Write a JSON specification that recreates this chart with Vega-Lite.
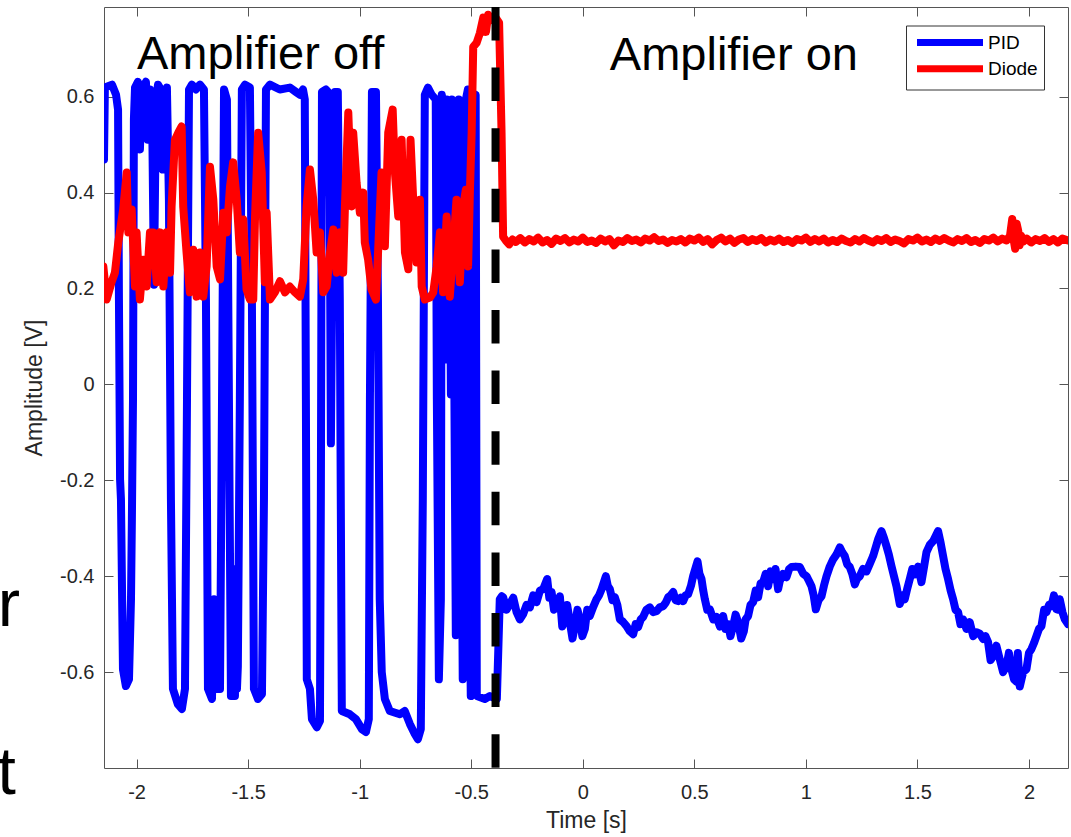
{
  "$schema": "https://vega.github.io/schema/vega-lite/v6.json",
  "width": 964,
  "height": 761,
  "autosize": {"type": "none"},
  "padding": {"left": 104, "top": 7, "right": 3, "bottom": 69},
  "background": "white",
  "config": {
    "view": {"stroke": "#555", "strokeWidth": 1},
    "font": "Liberation Sans",
    "axis": {
      "labelFont": "Liberation Sans", "labelFontSize": 20, "labelColor": "#262626",
      "titleFont": "Liberation Sans", "titleFontSize": 23, "titleColor": "#262626", "titleFontWeight": "normal",
      "tickColor": "#555", "tickSize": -9, "tickWidth": 1, "domain": false, "grid": false,
      "labelFlush": false, "labelOverlap": false
    }
  },
  "datasets": {
    "pid": [
      {"s":"PID","t":-2.146,"v":0.469},{"s":"PID","t":-2.142,"v":0.619},{"s":"PID","t":-2.110,"v":0.625},{"s":"PID","t":-2.092,"v":0.604},
      {"s":"PID","t":-2.083,"v":0.573},{"s":"PID","t":-2.079,"v":0.177},{"s":"PID","t":-2.074,"v":-0.198},{"s":"PID","t":-2.070,"v":-0.240},
      {"s":"PID","t":-2.061,"v":-0.594},{"s":"PID","t":-2.048,"v":-0.629},{"s":"PID","t":-2.034,"v":-0.615},{"s":"PID","t":-2.025,"v":-0.448},
      {"s":"PID","t":-2.021,"v":-0.281},{"s":"PID","t":-2.016,"v":-0.031},{"s":"PID","t":-2.012,"v":0.552},{"s":"PID","t":-2.007,"v":0.619},
      {"s":"PID","t":-1.994,"v":0.631},{"s":"PID","t":-1.985,"v":0.490},{"s":"PID","t":-1.976,"v":0.615},{"s":"PID","t":-1.958,"v":0.631},
      {"s":"PID","t":-1.949,"v":0.510},{"s":"PID","t":-1.940,"v":0.615},{"s":"PID","t":-1.931,"v":0.594},{"s":"PID","t":-1.922,"v":0.208},
      {"s":"PID","t":-1.913,"v":0.594},{"s":"PID","t":-1.904,"v":0.625},{"s":"PID","t":-1.891,"v":0.615},{"s":"PID","t":-1.882,"v":0.448},
      {"s":"PID","t":-1.873,"v":0.604},{"s":"PID","t":-1.864,"v":0.619},{"s":"PID","t":-1.855,"v":0.385},{"s":"PID","t":-1.846,"v":-0.240},
      {"s":"PID","t":-1.837,"v":-0.635},{"s":"PID","t":-1.815,"v":-0.667},{"s":"PID","t":-1.797,"v":-0.677},{"s":"PID","t":-1.783,"v":-0.635},
      {"s":"PID","t":-1.774,"v":-0.031},{"s":"PID","t":-1.765,"v":0.615},{"s":"PID","t":-1.752,"v":0.625},{"s":"PID","t":-1.734,"v":0.615},
      {"s":"PID","t":-1.716,"v":0.625},{"s":"PID","t":-1.698,"v":0.615},{"s":"PID","t":-1.689,"v":0.177},{"s":"PID","t":-1.680,"v":-0.635},
      {"s":"PID","t":-1.662,"v":-0.656},{"s":"PID","t":-1.653,"v":-0.448},{"s":"PID","t":-1.644,"v":-0.635},{"s":"PID","t":-1.626,"v":-0.635},
      {"s":"PID","t":-1.617,"v":-0.031},{"s":"PID","t":-1.608,"v":0.615},{"s":"PID","t":-1.595,"v":0.594},{"s":"PID","t":-1.586,"v":-0.031},
      {"s":"PID","t":-1.577,"v":-0.650},{"s":"PID","t":-1.559,"v":-0.650},{"s":"PID","t":-1.555,"v":-0.385},{"s":"PID","t":-1.550,"v":-0.635},
      {"s":"PID","t":-1.546,"v":-0.588},{"s":"PID","t":-1.537,"v":-0.031},{"s":"PID","t":-1.528,"v":0.615},{"s":"PID","t":-1.514,"v":0.625},
      {"s":"PID","t":-1.492,"v":0.619},{"s":"PID","t":-1.483,"v":0.177},{"s":"PID","t":-1.474,"v":-0.635},{"s":"PID","t":-1.456,"v":-0.656},
      {"s":"PID","t":-1.438,"v":-0.646},{"s":"PID","t":-1.429,"v":-0.240},{"s":"PID","t":-1.420,"v":0.615},{"s":"PID","t":-1.402,"v":0.625},
      {"s":"PID","t":-1.358,"v":0.615},{"s":"PID","t":-1.313,"v":0.619},{"s":"PID","t":-1.286,"v":0.610},{"s":"PID","t":-1.268,"v":0.604},
      {"s":"PID","t":-1.254,"v":0.615},{"s":"PID","t":-1.246,"v":0.594},{"s":"PID","t":-1.241,"v":-0.031},{"s":"PID","t":-1.237,"v":-0.615},
      {"s":"PID","t":-1.223,"v":-0.635},{"s":"PID","t":-1.214,"v":-0.698},{"s":"PID","t":-1.192,"v":-0.715},{"s":"PID","t":-1.178,"v":-0.702},
      {"s":"PID","t":-1.174,"v":-0.240},{"s":"PID","t":-1.169,"v":0.610},{"s":"PID","t":-1.151,"v":0.615},{"s":"PID","t":-1.142,"v":0.610},
      {"s":"PID","t":-1.134,"v":0.385},{"s":"PID","t":-1.129,"v":-0.123},{"s":"PID","t":-1.120,"v":0.385},{"s":"PID","t":-1.111,"v":0.610},
      {"s":"PID","t":-1.098,"v":0.610},{"s":"PID","t":-1.089,"v":0.177},{"s":"PID","t":-1.080,"v":-0.681},{"s":"PID","t":-1.044,"v":-0.688},
      {"s":"PID","t":-1.017,"v":-0.698},{"s":"PID","t":-0.990,"v":-0.719},{"s":"PID","t":-0.972,"v":-0.725},{"s":"PID","t":-0.959,"v":-0.698},
      {"s":"PID","t":-0.954,"v":-0.031},{"s":"PID","t":-0.945,"v":0.610},{"s":"PID","t":-0.927,"v":0.610},{"s":"PID","t":-0.918,"v":0.177},
      {"s":"PID","t":-0.910,"v":-0.448},{"s":"PID","t":-0.901,"v":-0.600},{"s":"PID","t":-0.887,"v":-0.656},{"s":"PID","t":-0.865,"v":-0.681},
      {"s":"PID","t":-0.820,"v":-0.688},{"s":"PID","t":-0.798,"v":-0.681},{"s":"PID","t":-0.775,"v":-0.708},{"s":"PID","t":-0.753,"v":-0.729},
      {"s":"PID","t":-0.739,"v":-0.740},{"s":"PID","t":-0.726,"v":-0.719},{"s":"PID","t":-0.717,"v":-0.240},{"s":"PID","t":-0.708,"v":0.604},
      {"s":"PID","t":-0.694,"v":0.619},{"s":"PID","t":-0.677,"v":0.604},{"s":"PID","t":-0.659,"v":0.594},{"s":"PID","t":-0.654,"v":-0.031},
      {"s":"PID","t":-0.645,"v":-0.615},{"s":"PID","t":-0.636,"v":-0.448},{"s":"PID","t":-0.632,"v":0.604},{"s":"PID","t":-0.623,"v":0.573},
      {"s":"PID","t":-0.614,"v":0.052},{"s":"PID","t":-0.609,"v":0.594},{"s":"PID","t":-0.600,"v":0.560},{"s":"PID","t":-0.591,"v":-0.021},
      {"s":"PID","t":-0.587,"v":0.594},{"s":"PID","t":-0.578,"v":0.177},{"s":"PID","t":-0.569,"v":-0.523},{"s":"PID","t":-0.565,"v":0.385},
      {"s":"PID","t":-0.556,"v":0.594},{"s":"PID","t":-0.547,"v":0.073},{"s":"PID","t":-0.538,"v":-0.615},{"s":"PID","t":-0.529,"v":-0.031},
      {"s":"PID","t":-0.524,"v":0.594},{"s":"PID","t":-0.515,"v":0.615},{"s":"PID","t":-0.511,"v":-0.240},{"s":"PID","t":-0.502,"v":-0.650},
      {"s":"PID","t":-0.493,"v":-0.448},{"s":"PID","t":-0.488,"v":0.594},{"s":"PID","t":-0.480,"v":0.604},{"s":"PID","t":-0.475,"v":-0.650},
      {"s":"PID","t":-0.439,"v":-0.656},{"s":"PID","t":-0.416,"v":-0.650},{"s":"PID","t":-0.385,"v":-0.656},{"s":"PID","t":-0.372,"v":-0.448},
      {"s":"PID","t":-0.363,"v":-0.442},{"s":"PID","t":-0.3567,"v":-0.444},{"s":"PID","t":-0.3417,"v":-0.470},{"s":"PID","t":-0.3267,"v":-0.458},
      {"s":"PID","t":-0.3117,"v":-0.445},{"s":"PID","t":-0.2967,"v":-0.475},{"s":"PID","t":-0.2820,"v":-0.490},{"s":"PID","t":-0.2671,"v":-0.479},
      {"s":"PID","t":-0.2520,"v":-0.460},{"s":"PID","t":-0.2371,"v":-0.465},{"s":"PID","t":-0.2220,"v":-0.440},{"s":"PID","t":-0.2070,"v":-0.454},
      {"s":"PID","t":-0.1920,"v":-0.430},{"s":"PID","t":-0.1775,"v":-0.427},{"s":"PID","t":-0.1595,"v":-0.406},{"s":"PID","t":-0.1500,"v":-0.445},
      {"s":"PID","t":-0.1398,"v":-0.433},{"s":"PID","t":-0.1290,"v":-0.470},{"s":"PID","t":-0.1174,"v":-0.4625},{"s":"PID","t":-0.1026,"v":-0.442},
      {"s":"PID","t":-0.0920,"v":-0.505},{"s":"PID","t":-0.0802,"v":-0.490},{"s":"PID","t":-0.0700,"v":-0.460},{"s":"PID","t":-0.0578,"v":-0.496},
      {"s":"PID","t":-0.0460,"v":-0.530},{"s":"PID","t":-0.0354,"v":-0.504},{"s":"PID","t":-0.0240,"v":-0.470},{"s":"PID","t":-0.0130,"v":-0.490},
      {"s":"PID","t":-0.0020,"v":-0.525},{"s":"PID","t":0.0094,"v":-0.510},{"s":"PID","t":0.0200,"v":-0.470},{"s":"PID","t":0.0318,"v":-0.483},
      {"s":"PID","t":0.0460,"v":-0.465},{"s":"PID","t":0.0618,"v":-0.448},{"s":"PID","t":0.0730,"v":-0.440},{"s":"PID","t":0.0842,"v":-0.427},
      {"s":"PID","t":0.1035,"v":-0.400},{"s":"PID","t":0.1120,"v":-0.420},{"s":"PID","t":0.1214,"v":-0.427},{"s":"PID","t":0.1330,"v":-0.450},
      {"s":"PID","t":0.1438,"v":-0.444},{"s":"PID","t":0.1550,"v":-0.460},{"s":"PID","t":0.1663,"v":-0.490},{"s":"PID","t":0.1800,"v":-0.495},
      {"s":"PID","t":0.1963,"v":-0.504},{"s":"PID","t":0.2110,"v":-0.515},{"s":"PID","t":0.2259,"v":-0.521},{"s":"PID","t":0.2370,"v":-0.500},
      {"s":"PID","t":0.2483,"v":-0.506},{"s":"PID","t":0.2600,"v":-0.490},{"s":"PID","t":0.2707,"v":-0.485},{"s":"PID","t":0.2850,"v":-0.470},
      {"s":"PID","t":0.3007,"v":-0.465},{"s":"PID","t":0.3150,"v":-0.475},{"s":"PID","t":0.3307,"v":-0.473},{"s":"PID","t":0.3450,"v":-0.465},
      {"s":"PID","t":0.3603,"v":-0.4625},{"s":"PID","t":0.3720,"v":-0.455},{"s":"PID","t":0.3827,"v":-0.444},{"s":"PID","t":0.3940,"v":-0.440},
      {"s":"PID","t":0.4051,"v":-0.433},{"s":"PID","t":0.4160,"v":-0.450},{"s":"PID","t":0.4275,"v":-0.452},{"s":"PID","t":0.4390,"v":-0.445},
      {"s":"PID","t":0.4499,"v":-0.452},{"s":"PID","t":0.4610,"v":-0.440},{"s":"PID","t":0.4723,"v":-0.4375},{"s":"PID","t":0.4850,"v":-0.420},
      {"s":"PID","t":0.4947,"v":-0.400},{"s":"PID","t":0.5144,"v":-0.369},{"s":"PID","t":0.5230,"v":-0.395},{"s":"PID","t":0.5323,"v":-0.406},
      {"s":"PID","t":0.5400,"v":-0.430},{"s":"PID","t":0.5472,"v":-0.448},{"s":"PID","t":0.5580,"v":-0.470},{"s":"PID","t":0.5696,"v":-0.469},
      {"s":"PID","t":0.5850,"v":-0.490},{"s":"PID","t":0.5996,"v":-0.485},{"s":"PID","t":0.6150,"v":-0.505},{"s":"PID","t":0.6292,"v":-0.483},
      {"s":"PID","t":0.6400,"v":-0.510},{"s":"PID","t":0.6516,"v":-0.500},{"s":"PID","t":0.6620,"v":-0.525},{"s":"PID","t":0.6740,"v":-0.504},
      {"s":"PID","t":0.6850,"v":-0.480},{"s":"PID","t":0.6964,"v":-0.496},{"s":"PID","t":0.7100,"v":-0.530},{"s":"PID","t":0.7219,"v":-0.515},
      {"s":"PID","t":0.7300,"v":-0.490},{"s":"PID","t":0.7412,"v":-0.483},{"s":"PID","t":0.7520,"v":-0.460},{"s":"PID","t":0.7636,"v":-0.454},
      {"s":"PID","t":0.7750,"v":-0.430},{"s":"PID","t":0.7860,"v":-0.444},{"s":"PID","t":0.7970,"v":-0.415},{"s":"PID","t":0.8084,"v":-0.4125},
      {"s":"PID","t":0.8200,"v":-0.395},{"s":"PID","t":0.8308,"v":-0.421},{"s":"PID","t":0.8420,"v":-0.390},{"s":"PID","t":0.8532,"v":-0.406},
      {"s":"PID","t":0.8640,"v":-0.385},{"s":"PID","t":0.8756,"v":-0.427},{"s":"PID","t":0.8832,"v":-0.410},{"s":"PID","t":0.8980,"v":-0.395},
      {"s":"PID","t":0.9133,"v":-0.402},{"s":"PID","t":0.9250,"v":-0.385},{"s":"PID","t":0.9357,"v":-0.381},{"s":"PID","t":0.9550,"v":-0.380},
      {"s":"PID","t":0.9729,"v":-0.381},{"s":"PID","t":0.9880,"v":-0.395},{"s":"PID","t":1.0029,"v":-0.400},{"s":"PID","t":1.0140,"v":-0.410},
      {"s":"PID","t":1.0253,"v":-0.421},{"s":"PID","t":1.0350,"v":-0.440},{"s":"PID","t":1.0446,"v":-0.469},{"s":"PID","t":1.0570,"v":-0.450},
      {"s":"PID","t":1.0701,"v":-0.442},{"s":"PID","t":1.0810,"v":-0.420},{"s":"PID","t":1.0925,"v":-0.400},{"s":"PID","t":1.1070,"v":-0.380},
      {"s":"PID","t":1.1221,"v":-0.365},{"s":"PID","t":1.1370,"v":-0.355},{"s":"PID","t":1.1521,"v":-0.340},{"s":"PID","t":1.1630,"v":-0.350},
      {"s":"PID","t":1.1745,"v":-0.358},{"s":"PID","t":1.1850,"v":-0.375},{"s":"PID","t":1.1969,"v":-0.381},{"s":"PID","t":1.2080,"v":-0.395},
      {"s":"PID","t":1.2193,"v":-0.417},{"s":"PID","t":1.2300,"v":-0.405},{"s":"PID","t":1.2418,"v":-0.400},{"s":"PID","t":1.2560,"v":-0.385},
      {"s":"PID","t":1.2718,"v":-0.390},{"s":"PID","t":1.2860,"v":-0.375},{"s":"PID","t":1.3014,"v":-0.358},{"s":"PID","t":1.3238,"v":-0.323},
      {"s":"PID","t":1.3390,"v":-0.306},{"s":"PID","t":1.3500,"v":-0.320},{"s":"PID","t":1.3614,"v":-0.3375},{"s":"PID","t":1.3720,"v":-0.355},
      {"s":"PID","t":1.3838,"v":-0.379},{"s":"PID","t":1.3950,"v":-0.400},{"s":"PID","t":1.4062,"v":-0.421},{"s":"PID","t":1.4210,"v":-0.458},
      {"s":"PID","t":1.4330,"v":-0.440},{"s":"PID","t":1.4434,"v":-0.448},{"s":"PID","t":1.4550,"v":-0.425},{"s":"PID","t":1.4658,"v":-0.406},
      {"s":"PID","t":1.4770,"v":-0.385},{"s":"PID","t":1.4882,"v":-0.396},{"s":"PID","t":1.5030,"v":-0.380},{"s":"PID","t":1.5182,"v":-0.4125},
      {"s":"PID","t":1.5300,"v":-0.380},{"s":"PID","t":1.5406,"v":-0.350},{"s":"PID","t":1.5550,"v":-0.335},{"s":"PID","t":1.5703,"v":-0.327},
      {"s":"PID","t":1.5927,"v":-0.306},{"s":"PID","t":1.6040,"v":-0.330},{"s":"PID","t":1.6151,"v":-0.358},{"s":"PID","t":1.6260,"v":-0.385},
      {"s":"PID","t":1.6375,"v":-0.406},{"s":"PID","t":1.6490,"v":-0.430},{"s":"PID","t":1.6599,"v":-0.448},{"s":"PID","t":1.6710,"v":-0.470},
      {"s":"PID","t":1.6823,"v":-0.475},{"s":"PID","t":1.6930,"v":-0.500},{"s":"PID","t":1.7047,"v":-0.490},{"s":"PID","t":1.7200,"v":-0.510},
      {"s":"PID","t":1.7347,"v":-0.496},{"s":"PID","t":1.7500,"v":-0.525},{"s":"PID","t":1.7647,"v":-0.517},{"s":"PID","t":1.7800,"v":-0.520},
      {"s":"PID","t":1.7943,"v":-0.531},{"s":"PID","t":1.8050,"v":-0.525},{"s":"PID","t":1.8167,"v":-0.5375},{"s":"PID","t":1.8280,"v":-0.575},
      {"s":"PID","t":1.8391,"v":-0.567},{"s":"PID","t":1.8540,"v":-0.545},{"s":"PID","t":1.8691,"v":-0.573},{"s":"PID","t":1.8840,"v":-0.600},
      {"s":"PID","t":1.8991,"v":-0.5875},{"s":"PID","t":1.9100,"v":-0.560},{"s":"PID","t":1.9215,"v":-0.594},{"s":"PID","t":1.9330,"v":-0.615},
      {"s":"PID","t":1.9439,"v":-0.620},{"s":"PID","t":1.9500,"v":-0.560},{"s":"PID","t":1.9588,"v":-0.630},{"s":"PID","t":1.9740,"v":-0.600},
      {"s":"PID","t":1.9888,"v":-0.594},{"s":"PID","t":2.0000,"v":-0.560},{"s":"PID","t":2.0112,"v":-0.552},{"s":"PID","t":2.0220,"v":-0.540},
      {"s":"PID","t":2.0336,"v":-0.525},{"s":"PID","t":2.0450,"v":-0.510},{"s":"PID","t":2.0560,"v":-0.504},{"s":"PID","t":2.0680,"v":-0.470},
      {"s":"PID","t":2.0784,"v":-0.475},{"s":"PID","t":2.0900,"v":-0.460},{"s":"PID","t":2.1008,"v":-0.4625},{"s":"PID","t":2.1120,"v":-0.440},
      {"s":"PID","t":2.1232,"v":-0.469},{"s":"PID","t":2.1300,"v":-0.470},{"s":"PID","t":2.1381,"v":-0.448},{"s":"PID","t":2.1500,"v":-0.475},
      {"s":"PID","t":2.1605,"v":-0.490},{"s":"PID","t":2.1753,"v":-0.500}
    ],
    "diode": [
      {"s":"Diode","t":-2.149,"v":0.246},{"s":"Diode","t":-2.134,"v":0.177},{"s":"Diode","t":-2.112,"v":0.213},{"s":"Diode","t":-2.097,"v":0.233},
      {"s":"Diode","t":-2.082,"v":0.296},{"s":"Diode","t":-2.060,"v":0.365},{"s":"Diode","t":-2.044,"v":0.442},{"s":"Diode","t":-2.037,"v":0.317},
      {"s":"Diode","t":-2.022,"v":0.365},{"s":"Diode","t":-2.007,"v":0.204},{"s":"Diode","t":-2.000,"v":0.317},{"s":"Diode","t":-1.985,"v":0.177},
      {"s":"Diode","t":-1.970,"v":0.260},{"s":"Diode","t":-1.955,"v":0.204},{"s":"Diode","t":-1.940,"v":0.317},{"s":"Diode","t":-1.925,"v":0.317},
      {"s":"Diode","t":-1.910,"v":0.213},{"s":"Diode","t":-1.895,"v":0.317},{"s":"Diode","t":-1.880,"v":0.204},{"s":"Diode","t":-1.865,"v":0.317},
      {"s":"Diode","t":-1.850,"v":0.233},{"s":"Diode","t":-1.843,"v":0.371},{"s":"Diode","t":-1.828,"v":0.510},{"s":"Diode","t":-1.813,"v":0.525},
      {"s":"Diode","t":-1.798,"v":0.538},{"s":"Diode","t":-1.791,"v":0.371},{"s":"Diode","t":-1.776,"v":0.275},{"s":"Diode","t":-1.761,"v":0.192},
      {"s":"Diode","t":-1.746,"v":0.281},{"s":"Diode","t":-1.731,"v":0.183},{"s":"Diode","t":-1.716,"v":0.275},{"s":"Diode","t":-1.701,"v":0.183},
      {"s":"Diode","t":-1.686,"v":0.246},{"s":"Diode","t":-1.671,"v":0.454},{"s":"Diode","t":-1.656,"v":0.385},{"s":"Diode","t":-1.641,"v":0.246},
      {"s":"Diode","t":-1.626,"v":0.219},{"s":"Diode","t":-1.611,"v":0.358},{"s":"Diode","t":-1.596,"v":0.317},{"s":"Diode","t":-1.581,"v":0.413},
      {"s":"Diode","t":-1.567,"v":0.463},{"s":"Diode","t":-1.551,"v":0.385},{"s":"Diode","t":-1.537,"v":0.275},{"s":"Diode","t":-1.522,"v":0.344},
      {"s":"Diode","t":-1.507,"v":0.198},{"s":"Diode","t":-1.492,"v":0.177},{"s":"Diode","t":-1.477,"v":0.177},{"s":"Diode","t":-1.469,"v":0.350},
      {"s":"Diode","t":-1.455,"v":0.525},{"s":"Diode","t":-1.439,"v":0.442},{"s":"Diode","t":-1.425,"v":0.213},{"s":"Diode","t":-1.417,"v":0.358},
      {"s":"Diode","t":-1.402,"v":0.177},{"s":"Diode","t":-1.380,"v":0.192},{"s":"Diode","t":-1.357,"v":0.215},{"s":"Diode","t":-1.335,"v":0.192},
      {"s":"Diode","t":-1.313,"v":0.204},{"s":"Diode","t":-1.290,"v":0.192},{"s":"Diode","t":-1.268,"v":0.183},{"s":"Diode","t":-1.253,"v":0.219},
      {"s":"Diode","t":-1.238,"v":0.371},{"s":"Diode","t":-1.223,"v":0.448},{"s":"Diode","t":-1.208,"v":0.385},{"s":"Diode","t":-1.193,"v":0.275},
      {"s":"Diode","t":-1.178,"v":0.317},{"s":"Diode","t":-1.163,"v":0.192},{"s":"Diode","t":-1.148,"v":0.204},{"s":"Diode","t":-1.133,"v":0.275},
      {"s":"Diode","t":-1.118,"v":0.323},{"s":"Diode","t":-1.103,"v":0.233},{"s":"Diode","t":-1.088,"v":0.317},{"s":"Diode","t":-1.074,"v":0.233},
      {"s":"Diode","t":-1.066,"v":0.371},{"s":"Diode","t":-1.051,"v":0.567},{"s":"Diode","t":-1.036,"v":0.371},{"s":"Diode","t":-1.029,"v":0.525},
      {"s":"Diode","t":-1.014,"v":0.421},{"s":"Diode","t":-0.999,"v":0.358},{"s":"Diode","t":-0.984,"v":0.400},{"s":"Diode","t":-0.977,"v":0.296},
      {"s":"Diode","t":-0.962,"v":0.260},{"s":"Diode","t":-0.947,"v":0.198},{"s":"Diode","t":-0.927,"v":0.177},{"s":"Diode","t":-0.917,"v":0.281},
      {"s":"Diode","t":-0.902,"v":0.442},{"s":"Diode","t":-0.887,"v":0.288},{"s":"Diode","t":-0.872,"v":0.525},{"s":"Diode","t":-0.852,"v":0.573},
      {"s":"Diode","t":-0.842,"v":0.442},{"s":"Diode","t":-0.827,"v":0.350},{"s":"Diode","t":-0.812,"v":0.510},{"s":"Diode","t":-0.797,"v":0.275},
      {"s":"Diode","t":-0.782,"v":0.240},{"s":"Diode","t":-0.772,"v":0.510},{"s":"Diode","t":-0.760,"v":0.385},{"s":"Diode","t":-0.745,"v":0.254},
      {"s":"Diode","t":-0.730,"v":0.385},{"s":"Diode","t":-0.722,"v":0.204},{"s":"Diode","t":-0.708,"v":0.177},{"s":"Diode","t":-0.685,"v":0.181},
      {"s":"Diode","t":-0.670,"v":0.192},{"s":"Diode","t":-0.655,"v":0.246},{"s":"Diode","t":-0.640,"v":0.317},{"s":"Diode","t":-0.626,"v":0.192},
      {"s":"Diode","t":-0.610,"v":0.350},{"s":"Diode","t":-0.596,"v":0.183},{"s":"Diode","t":-0.581,"v":0.281},{"s":"Diode","t":-0.566,"v":0.385},
      {"s":"Diode","t":-0.551,"v":0.213},{"s":"Diode","t":-0.536,"v":0.371},{"s":"Diode","t":-0.524,"v":0.406},{"s":"Diode","t":-0.514,"v":0.246},
      {"s":"Diode","t":-0.506,"v":0.400},{"s":"Diode","t":-0.498,"v":0.525},{"s":"Diode","t":-0.491,"v":0.704},{"s":"Diode","t":-0.476,"v":0.712},
      {"s":"Diode","t":-0.461,"v":0.733},{"s":"Diode","t":-0.446,"v":0.765},{"s":"Diode","t":-0.434,"v":0.735},{"s":"Diode","t":-0.424,"v":0.771},
      {"s":"Diode","t":-0.409,"v":0.760},{"s":"Diode","t":-0.394,"v":0.767},{"s":"Diode","t":-0.375,"v":0.754},{"s":"Diode","t":-0.364,"v":0.525},
      {"s":"Diode","t":-0.357,"v":0.308},{"s":"Diode","t":-0.345,"v":0.300},{"s":"Diode","t":-0.330,"v":0.292},{"s":"Diode","t":-0.315,"v":0.302},
      {"s":"Diode","t":-0.300,"v":0.297},{"s":"Diode","t":-0.280,"v":0.305},{"s":"Diode","t":-0.260,"v":0.296},{"s":"Diode","t":-0.240,"v":0.303},
      {"s":"Diode","t":-0.220,"v":0.298},{"s":"Diode","t":-0.200,"v":0.306},{"s":"Diode","t":-0.180,"v":0.296},{"s":"Diode","t":-0.160,"v":0.301},
      {"s":"Diode","t":-0.140,"v":0.293},{"s":"Diode","t":-0.120,"v":0.304},{"s":"Diode","t":-0.100,"v":0.299},{"s":"Diode","t":-0.080,"v":0.305},
      {"s":"Diode","t":-0.060,"v":0.296},{"s":"Diode","t":-0.040,"v":0.302},{"s":"Diode","t":-0.020,"v":0.298},{"s":"Diode","t":0.000,"v":0.306},
      {"s":"Diode","t":0.020,"v":0.297},{"s":"Diode","t":0.040,"v":0.300},{"s":"Diode","t":0.060,"v":0.295},{"s":"Diode","t":0.080,"v":0.304},
      {"s":"Diode","t":0.100,"v":0.298},{"s":"Diode","t":0.120,"v":0.303},{"s":"Diode","t":0.140,"v":0.290},{"s":"Diode","t":0.160,"v":0.300},
      {"s":"Diode","t":0.180,"v":0.297},{"s":"Diode","t":0.200,"v":0.305},{"s":"Diode","t":0.220,"v":0.299},{"s":"Diode","t":0.240,"v":0.302},
      {"s":"Diode","t":0.260,"v":0.296},{"s":"Diode","t":0.280,"v":0.304},{"s":"Diode","t":0.300,"v":0.300},{"s":"Diode","t":0.320,"v":0.307},
      {"s":"Diode","t":0.340,"v":0.299},{"s":"Diode","t":0.360,"v":0.302},{"s":"Diode","t":0.380,"v":0.295},{"s":"Diode","t":0.400,"v":0.301},
      {"s":"Diode","t":0.420,"v":0.298},{"s":"Diode","t":0.440,"v":0.303},{"s":"Diode","t":0.460,"v":0.296},{"s":"Diode","t":0.480,"v":0.304},
      {"s":"Diode","t":0.500,"v":0.300},{"s":"Diode","t":0.520,"v":0.306},{"s":"Diode","t":0.540,"v":0.297},{"s":"Diode","t":0.560,"v":0.303},
      {"s":"Diode","t":0.580,"v":0.292},{"s":"Diode","t":0.600,"v":0.301},{"s":"Diode","t":0.620,"v":0.306},{"s":"Diode","t":0.640,"v":0.298},
      {"s":"Diode","t":0.660,"v":0.304},{"s":"Diode","t":0.680,"v":0.295},{"s":"Diode","t":0.700,"v":0.302},{"s":"Diode","t":0.720,"v":0.305},
      {"s":"Diode","t":0.740,"v":0.297},{"s":"Diode","t":0.760,"v":0.303},{"s":"Diode","t":0.780,"v":0.299},{"s":"Diode","t":0.800,"v":0.305},
      {"s":"Diode","t":0.820,"v":0.296},{"s":"Diode","t":0.840,"v":0.302},{"s":"Diode","t":0.860,"v":0.298},{"s":"Diode","t":0.880,"v":0.304},
      {"s":"Diode","t":0.900,"v":0.297},{"s":"Diode","t":0.920,"v":0.301},{"s":"Diode","t":0.940,"v":0.295},{"s":"Diode","t":0.960,"v":0.303},
      {"s":"Diode","t":0.980,"v":0.300},{"s":"Diode","t":1.000,"v":0.306},{"s":"Diode","t":1.020,"v":0.297},{"s":"Diode","t":1.040,"v":0.303},
      {"s":"Diode","t":1.060,"v":0.298},{"s":"Diode","t":1.080,"v":0.304},{"s":"Diode","t":1.100,"v":0.296},{"s":"Diode","t":1.120,"v":0.301},
      {"s":"Diode","t":1.140,"v":0.297},{"s":"Diode","t":1.160,"v":0.304},{"s":"Diode","t":1.180,"v":0.299},{"s":"Diode","t":1.200,"v":0.296},
      {"s":"Diode","t":1.220,"v":0.303},{"s":"Diode","t":1.240,"v":0.298},{"s":"Diode","t":1.260,"v":0.305},{"s":"Diode","t":1.280,"v":0.300},
      {"s":"Diode","t":1.300,"v":0.296},{"s":"Diode","t":1.320,"v":0.303},{"s":"Diode","t":1.340,"v":0.299},{"s":"Diode","t":1.360,"v":0.305},
      {"s":"Diode","t":1.380,"v":0.297},{"s":"Diode","t":1.400,"v":0.302},{"s":"Diode","t":1.420,"v":0.299},{"s":"Diode","t":1.440,"v":0.294},
      {"s":"Diode","t":1.460,"v":0.303},{"s":"Diode","t":1.480,"v":0.300},{"s":"Diode","t":1.500,"v":0.306},{"s":"Diode","t":1.520,"v":0.298},
      {"s":"Diode","t":1.540,"v":0.302},{"s":"Diode","t":1.560,"v":0.297},{"s":"Diode","t":1.580,"v":0.304},{"s":"Diode","t":1.600,"v":0.299},
      {"s":"Diode","t":1.620,"v":0.305},{"s":"Diode","t":1.640,"v":0.300},{"s":"Diode","t":1.660,"v":0.296},{"s":"Diode","t":1.680,"v":0.303},
      {"s":"Diode","t":1.700,"v":0.299},{"s":"Diode","t":1.720,"v":0.305},{"s":"Diode","t":1.740,"v":0.297},{"s":"Diode","t":1.760,"v":0.301},
      {"s":"Diode","t":1.780,"v":0.295},{"s":"Diode","t":1.800,"v":0.303},{"s":"Diode","t":1.820,"v":0.300},{"s":"Diode","t":1.840,"v":0.306},
      {"s":"Diode","t":1.860,"v":0.298},{"s":"Diode","t":1.880,"v":0.304},{"s":"Diode","t":1.900,"v":0.300},{"s":"Diode","t":1.915,"v":0.310},
      {"s":"Diode","t":1.925,"v":0.345},{"s":"Diode","t":1.932,"v":0.300},{"s":"Diode","t":1.938,"v":0.283},{"s":"Diode","t":1.945,"v":0.335},
      {"s":"Diode","t":1.952,"v":0.320},{"s":"Diode","t":1.958,"v":0.290},{"s":"Diode","t":1.965,"v":0.310},{"s":"Diode","t":1.975,"v":0.298},
      {"s":"Diode","t":1.990,"v":0.304},{"s":"Diode","t":2.010,"v":0.296},{"s":"Diode","t":2.030,"v":0.303},{"s":"Diode","t":2.050,"v":0.299},
      {"s":"Diode","t":2.070,"v":0.305},{"s":"Diode","t":2.090,"v":0.297},{"s":"Diode","t":2.110,"v":0.303},{"s":"Diode","t":2.130,"v":0.296},
      {"s":"Diode","t":2.150,"v":0.304},{"s":"Diode","t":2.175,"v":0.300}
    ],
    "notes": [
      {"t": -1.998, "v": 0.658, "label": "Amplifier off"},
      {"t": 0.1214, "v": 0.655, "label": "Amplifier on"}
    ],
    "cut": [
      {"t": -2.5225, "v": -0.504, "label": "r"},
      {"t": -2.5405, "v": -0.854, "label": "t"}
    ],
    "switch": [{"t": -0.391}]
  },
  "resolve": {"axis": {"x": "independent", "y": "independent"}},
  "layer": [
    {
      "data": {"name": "pid"},
      "mark": {"type": "line", "strokeWidth": 8, "strokeJoin": "round", "strokeCap": "round", "clip": true},
      "encoding": {
        "x": {"field": "t", "type": "quantitative",
              "scale": {"domain": [-2.146, 2.175], "nice": false, "zero": false},
              "axis": {"orient": "bottom", "values": [-2, -1.5, -1, -0.5, 0, 0.5, 1, 1.5, 2], "labelPadding": 23,
                       "labelExpr": "replace(format(datum.value, '~g'), '\u2212', '-')", "title": "Time [s]", "titlePadding": 7}},
        "y": {"field": "v", "type": "quantitative",
              "scale": {"domain": [-0.8, 0.787], "nice": false, "zero": false},
              "axis": {"orient": "left", "values": [-0.6, -0.4, -0.2, 0, 0.2, 0.4, 0.6], "labelPadding": 19,
                       "labelExpr": "replace(format(datum.value, '~g'), '\u2212', '-')", "title": "Amplitude [V]", "titlePadding": 13}},
        "color": {"field": "s", "type": "nominal",
                  "scale": {"domain": ["PID", "Diode"], "range": ["#0000ff", "#ff0000"]},
                  "legend": {"title": null, "orient": "none", "legendX": 802, "legendY": 18.5, "direction": "vertical",
                             "symbolType": "M-4.4,0H4.4", "symbolSize": 225, "symbolStrokeWidth": 7, "symbolOffset": 27,
                             "labelFont": "Liberation Sans", "labelFontSize": 19, "labelColor": "#000", "labelOffset": 27,
                             "strokeColor": "#333", "fillColor": "#ffffff", "padding": 6, "rowPadding": -1.8}}
      }
    },
    {
      "data": {"name": "diode"},
      "mark": {"type": "line", "strokeWidth": 8, "strokeJoin": "round", "strokeCap": "round", "clip": true},
      "encoding": {
        "x": {"field": "t", "type": "quantitative", "scale": {"domain": [-2.146, 2.175], "nice": false, "zero": false}, "axis": null},
        "y": {"field": "v", "type": "quantitative", "scale": {"domain": [-0.8, 0.787], "nice": false, "zero": false}, "axis": null},
        "color": {"field": "s", "type": "nominal"}
      }
    },
    {
      "data": {"name": "notes"},
      "mark": {"type": "text", "align": "left", "baseline": "alphabetic", "fontSize": 47, "font": "Liberation Sans", "color": "#000"},
      "encoding": {
        "x": {"field": "t", "type": "quantitative", "scale": {"domain": [-2.146, 2.175], "nice": false, "zero": false},
              "axis": {"orient": "top", "values": [-2, -1.5, -1, -0.5, 0, 0.5, 1, 1.5, 2], "labels": false, "title": null}},
        "y": {"field": "v", "type": "quantitative", "scale": {"domain": [-0.8, 0.787], "nice": false, "zero": false},
              "axis": {"orient": "right", "values": [-0.6, -0.4, -0.2, 0, 0.2, 0.4, 0.6], "labels": false, "title": null}},
        "text": {"field": "label"}
      }
    },
    {
      "data": {"name": "cut"},
      "mark": {"type": "text", "align": "right", "baseline": "alphabetic", "fontSize": 67, "font": "Liberation Sans", "color": "#000", "clip": false},
      "encoding": {
        "x": {"field": "t", "type": "quantitative", "scale": {"domain": [-2.146, 2.175], "nice": false, "zero": false}, "axis": null},
        "y": {"field": "v", "type": "quantitative", "scale": {"domain": [-0.8, 0.787], "nice": false, "zero": false}, "axis": null},
        "text": {"field": "label"}
      }
    },
    {
      "data": {"name": "switch"},
      "mark": {"type": "rule", "color": "#000", "strokeWidth": 8, "strokeDash": [33.5, 27.1], "strokeCap": "butt"},
      "encoding": {
        "x": {"field": "t", "type": "quantitative", "scale": {"domain": [-2.146, 2.175], "nice": false, "zero": false}, "axis": null}
      }
    }
  ]
}
